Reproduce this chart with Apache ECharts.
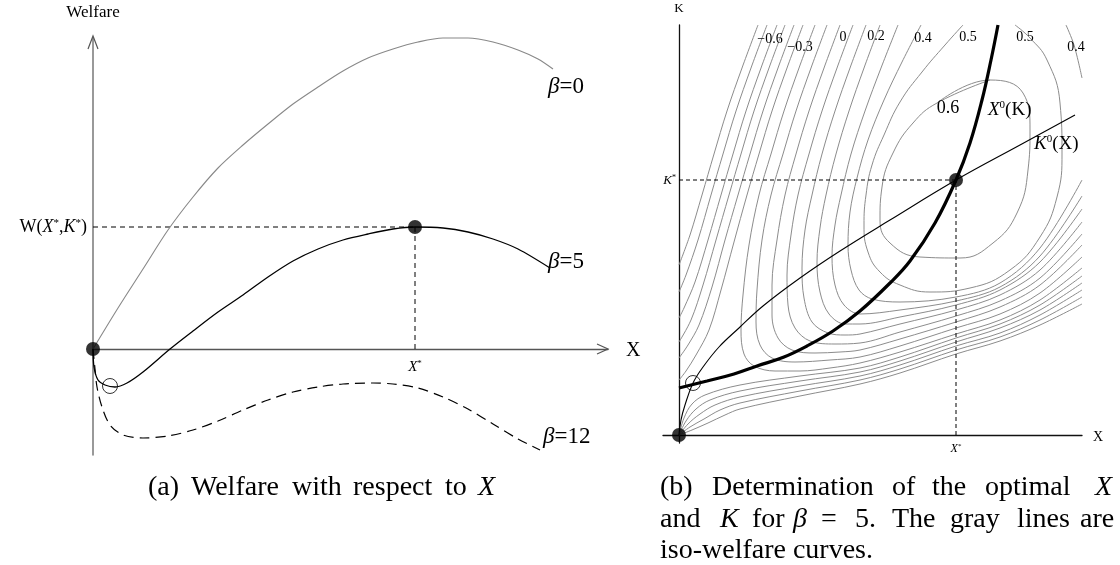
<!DOCTYPE html>
<html><head><meta charset="utf-8">
<script src="https://cdn.jsdelivr.net/npm/echarts/dist/echarts.min.js"></script>
<style>html,body{margin:0;padding:0;background:#fff}#c{width:1120px;height:565px}</style>
</head><body><div id="c"></div>
<script>
// ---------- Panel (a): welfare W against X for three beta values ----------
const beta0Curve = [[0,0],[0.25,0.41],[0.5,0.80],[0.75,1.19],[1.0,1.52],[1.25,1.81],[1.5,2.04],[1.75,2.25],[2.0,2.45],[2.25,2.62],[2.5,2.78],[2.75,2.91],[3.0,3.00],[3.25,3.07],[3.5,3.11],[3.75,3.11],[4.0,3.07],[4.25,2.99],[4.45,2.90],[4.6,2.80]];
const beta5Curve = [[0,0],[0.01,-0.18],[0.05,-0.31],[0.12,-0.36],[0.22,-0.38],[0.34,-0.34],[0.50,-0.23],[0.77,0],[1.0,0.18],[1.25,0.37],[1.5,0.54],[1.75,0.72],[2.0,0.88],[2.25,1.00],[2.5,1.09],[2.75,1.15],[3.0,1.20],[3.22,1.22],[3.5,1.21],[3.75,1.17],[4.0,1.10],[4.25,1.00],[4.57,0.81]];
const beta12Curve = [[0,0],[0.02,-0.20],[0.04,-0.38],[0.09,-0.58],[0.17,-0.76],[0.30,-0.86],[0.50,-0.89],[0.75,-0.87],[1.0,-0.81],[1.25,-0.72],[1.5,-0.61],[1.75,-0.51],[2.0,-0.43],[2.25,-0.38],[2.5,-0.35],[2.8,-0.34],[3.0,-0.35],[3.25,-0.39],[3.5,-0.48],[3.75,-0.60],[4.0,-0.75],[4.25,-0.90],[4.47,-1.01]];
const leftOptimum = [3.22, 1.22];
const leftOrigin = [0, 0];
const leftLocalMin = [0.17, -0.37];

// ---------- Panel (b): iso-welfare curves in the (X, K) plane ----------
const kZeroCurve = [[0,0],[0.02,0.15],[0.06,0.30],[0.14,0.52],[0.24,0.68],[0.40,0.88],[0.60,1.07],[0.84,1.29],[1.21,1.57],[1.61,1.84],[2.11,2.15],[2.77,2.55],[3.41,2.90],[3.96,3.20]];
const xZeroCurve = [[0,0.47],[0.28,0.54],[0.55,0.61],[0.78,0.69],[1.05,0.78],[1.28,0.89],[1.54,1.04],[1.81,1.24],[2.11,1.52],[2.31,1.74],[2.56,2.12],[2.77,2.55],[2.91,2.92],[3.03,3.35],[3.12,3.75],[3.19,4.10]];
const rightOptimum = [2.77, 2.55];
const rightOrigin = [0, 0];
const rightLocalPt = [0.14, 0.52];

// level 0.6: closed loop around the optimum
const isoLoop = [[2.58,3.32],[3.11,3.55],[3.44,3.42],[3.51,3.05],[3.49,2.65],[3.38,2.22],[3.14,1.92],[2.81,1.77],[2.41,1.78],[2.11,1.92],[2.01,2.15],[2.03,2.48],[2.14,2.82],[2.34,3.12],[2.58,3.32],[3.11,3.55]];
// level 0.5: U-shape opened at the top
const isoU = [[2.84,4.10],[2.66,3.90],[2.43,3.63],[2.21,3.33],[2.05,3.00],[1.93,2.70],[1.87,2.40],[1.85,2.10],[1.89,1.83],[2.01,1.63],[2.21,1.50],[2.51,1.43],[2.91,1.47],[3.31,1.65],[3.61,1.98],[3.78,2.38],[3.83,2.82],[3.81,3.32],[3.68,3.75],[3.51,3.97],[3.36,4.10]];
// level 0.4: small piece in the upper right corner
const isoCorner = [[3.87,4.10],[3.95,3.90],[4.03,3.57]];
// steep lines that end on the K axis
const isoDiagonal = [
  [[0.79,4.10],[0.63,3.67],[0.48,3.24],[0.35,2.81],[0.23,2.40],[0.11,2.00],[0,1.70]],
  [[0.88,4.10],[0.72,3.67],[0.57,3.24],[0.44,2.81],[0.32,2.40],[0.19,1.95],[0.07,1.60],[0,1.43]],
  [[0.98,4.10],[0.82,3.67],[0.67,3.24],[0.54,2.81],[0.42,2.40],[0.29,1.95],[0.16,1.53],[0.05,1.27],[0,1.17]],
  [[1.06,4.10],[0.90,3.67],[0.75,3.24],[0.62,2.81],[0.50,2.40],[0.37,1.95],[0.24,1.50],[0.12,1.15],[0,0.93]],
  [[1.15,4.10],[0.99,3.67],[0.84,3.24],[0.71,2.81],[0.59,2.40],[0.46,1.95],[0.33,1.48],[0.20,1.10],[0.09,0.90],[0,0.77]],
  [[1.24,4.10],[1.08,3.67],[0.93,3.24],[0.80,2.81],[0.68,2.40],[0.55,1.93],[0.42,1.45],[0.30,1.05],[0.17,0.80],[0.07,0.64],[0,0.55]]
];
// lines that come down, bend and leave through the right edge
const isoBent = [
  [[1.36,4.10],[1.20,3.67],[1.05,3.24],[0.92,2.81],[0.80,2.40],[0.70,1.90],[0.64,1.40],[0.62,1.05],[0.65,0.81],[0.75,0.69],[0.96,0.64],[1.21,0.64],[1.51,0.67],[1.81,0.72],[2.21,0.83],[2.77,1.01],[3.21,1.15],[3.61,1.35],[4.03,1.67]],
  [[1.48,4.10],[1.32,3.67],[1.17,3.24],[1.04,2.81],[0.92,2.40],[0.83,1.95],[0.78,1.45],[0.77,1.13],[0.81,0.90],[0.93,0.77],[1.16,0.73],[1.51,0.75],[1.81,0.78],[2.21,0.89],[2.77,1.07],[3.21,1.21],[3.61,1.42],[4.03,1.78]],
  [[1.61,4.10],[1.45,3.67],[1.30,3.24],[1.17,2.81],[1.06,2.40],[0.98,1.95],[0.93,1.50],[0.93,1.20],[0.99,0.97],[1.13,0.85],[1.36,0.82],[1.61,0.83],[1.81,0.85],[2.21,0.96],[2.77,1.13],[3.21,1.28],[3.61,1.50],[4.03,1.90]],
  [[1.74,4.10],[1.58,3.67],[1.43,3.24],[1.30,2.81],[1.19,2.40],[1.12,2.00],[1.08,1.60],[1.09,1.30],[1.16,1.07],[1.31,0.94],[1.56,0.91],[1.81,0.92],[2.21,1.03],[2.77,1.19],[3.21,1.34],[3.61,1.57],[4.03,2.01]],
  [[1.87,4.10],[1.71,3.67],[1.56,3.24],[1.43,2.81],[1.33,2.40],[1.26,2.05],[1.23,1.67],[1.25,1.37],[1.33,1.13],[1.49,1.02],[1.66,1.00],[1.81,1.01],[2.21,1.11],[2.77,1.25],[3.21,1.40],[3.61,1.65],[4.03,2.13]],
  [[2.01,4.10],[1.85,3.67],[1.70,3.24],[1.57,2.81],[1.47,2.40],[1.41,2.07],[1.38,1.73],[1.41,1.43],[1.50,1.21],[1.66,1.11],[1.81,1.11],[2.21,1.18],[2.77,1.30],[3.21,1.45],[3.61,1.73],[4.03,2.26]],
  [[2.19,4.10],[2.02,3.67],[1.86,3.24],[1.72,2.81],[1.62,2.40],[1.56,2.10],[1.53,1.79],[1.56,1.50],[1.65,1.30],[1.81,1.21],[2.21,1.25],[2.77,1.34],[3.21,1.48],[3.61,1.79],[4.03,2.39]],
  [[2.42,4.10],[2.23,3.73],[2.05,3.35],[1.89,2.95],[1.78,2.57],[1.71,2.23],[1.69,1.90],[1.72,1.65],[1.80,1.45],[1.93,1.36],[2.21,1.33],[2.77,1.38],[3.21,1.52],[3.61,1.87],[4.03,2.55]]
];
// lines fanning out of the origin
const isoFan = [
  [[0,0],[0.05,0.17],[0.13,0.31],[0.26,0.40],[0.61,0.50],[1.21,0.59],[1.81,0.67],[2.21,0.78],[2.77,0.97],[3.21,1.11],[3.61,1.30],[4.03,1.59]],
  [[0,0],[0.07,0.14],[0.17,0.26],[0.31,0.35],[0.61,0.44],[1.21,0.54],[1.81,0.63],[2.21,0.74],[2.77,0.93],[3.21,1.07],[3.61,1.25],[4.03,1.52]],
  [[0,0],[0.09,0.11],[0.21,0.21],[0.36,0.30],[0.61,0.38],[1.21,0.49],[1.81,0.59],[2.21,0.70],[2.77,0.89],[3.21,1.02],[3.61,1.20],[4.03,1.45]],
  [[0,0],[0.11,0.08],[0.25,0.16],[0.41,0.25],[0.61,0.32],[1.21,0.44],[1.81,0.55],[2.21,0.66],[2.77,0.85],[3.21,0.98],[3.61,1.15],[4.03,1.38]],
  [[0,0],[0.13,0.05],[0.29,0.12],[0.46,0.20],[0.61,0.26],[1.21,0.39],[1.81,0.51],[2.21,0.62],[2.77,0.81],[3.21,0.94],[3.61,1.10],[4.03,1.31]]
];
const isoLabels = ['\u22120.6','\u22120.3','0','0.2','0.4','0.5','0.5','0.4'];

// ---------- chart ----------
const SERIF = 'Liberation Serif, Times New Roman, serif';
const chart = echarts.init(document.getElementById('c'), null, {renderer:'canvas'});
const series = [];
function line(data, gi, style, extra){
  series.push(Object.assign({type:'line', xAxisIndex:gi, yAxisIndex:gi, data:data, symbol:'none', smooth:0.35,
    lineStyle:style, silent:true, clip:false, z:2, animation:false}, extra||{}));
}
function dots(data, gi, size, hollow){
  series.push({type:'scatter', xAxisIndex:gi, yAxisIndex:gi, data:data, symbolSize:size, silent:true, z:10, animation:false,
    itemStyle: hollow ? {color:'rgba(0,0,0,0)', borderColor:'#000', borderWidth:1} : {color:'#000'}});
}
const gray = {color:'#8c8c8c', width:1};
// panel a
line([[0,leftOptimum[1]],leftOptimum], 0, {color:'#000', width:1, type:[5,4]}, {smooth:false});
line([[leftOptimum[0],0],leftOptimum], 0, {color:'#000', width:1, type:[5,4]}, {smooth:false});
line(beta0Curve, 0, {color:'#888', width:1.1}, {smooth:0.3});
line(beta5Curve, 0, {color:'#000', width:1.3}, {smooth:0.3});
line(beta12Curve, 0, {color:'#000', width:1.2, type:[10,6]}, {smooth:0.3});
dots([leftOrigin, leftOptimum], 0, 14, false);
dots([leftLocalMin], 0, 15, true);
// panel b
isoDiagonal.forEach(d => line(d, 1, gray));
isoBent.forEach(d => line(d, 1, gray));
isoFan.forEach(d => line(d, 1, gray));
line(isoLoop, 1, gray, {smooth:0.45});
line(isoU, 1, gray, {smooth:0.45});
line(isoCorner, 1, gray);
line([[0,rightOptimum[1]],rightOptimum], 1, {color:'#000', width:1, type:[4,3]}, {smooth:false});
line([[rightOptimum[0],0],rightOptimum], 1, {color:'#000', width:1, type:[4,3]}, {smooth:false});
line(kZeroCurve, 1, {color:'#000', width:1.1}, {z:4, smooth:0.4});
line(xZeroCurve, 1, {color:'#000', width:3.2}, {z:5, smooth:0.4});
dots([rightOrigin, rightOptimum], 1, 14, false);
dots([rightLocalPt], 1, 15, true);

function vAxis(gi, min, max, color, w){
  return {type:'value', gridIndex:gi, min:min, max:max, axisLine:{onZero:true, lineStyle:{color:color, width:w}},
    axisTick:{show:false}, axisLabel:{show:false}, splitLine:{show:false}};
}
chart.setOption({
  animation:false,
  backgroundColor:'#fff',
  grid:[{left:93, top:38, width:515, height:417},{left:663, top:25, width:419, height:418}],
  xAxis:[vAxis(0, 0, 5.15, '#555', 1.3), vAxis(1, -0.16, 4.03, '#111', 1.3)],
  yAxis:[vAxis(0, -1.06, 3.11, '#777', 1.5), vAxis(1, -0.08, 4.10, '#111', 1.3)],
  series: series
});

// ---------- text and arrows ----------
function txt(x, y, text, size, align, rich, italic){
  return {type:'text', x:x, y:y, silent:true, z:20,
    style:{text:text, fontFamily:SERIF, fontSize:size, fontStyle: italic?'italic':'normal', fill:'#000', align:align||'center', verticalAlign:'middle', rich:rich}};
}
function rich(size){
  return {n:{fontFamily:SERIF, fontSize:size, fill:'#000'},
          i:{fontFamily:SERIF, fontSize:size, fontStyle:'italic', fill:'#000'},
          s:{fontFamily:SERIF, fontSize:Math.round(size*0.6), fill:'#000', padding:[0,0,Math.round(size*0.45),0]}};
}
const g = [];
const tipY = chart.convertToPixel({gridIndex:0}, [0, 3.11]);
const tipX = chart.convertToPixel({gridIndex:0}, [5.15, 0]);
g.push({type:'polyline', silent:true, z:20, shape:{points:[[tipY[0]-5, tipY[1]+11],[tipY[0], tipY[1]-2],[tipY[0]+5, tipY[1]+11]]}, style:{stroke:'#555', lineWidth:1.2, fill:null}});
g.push({type:'polyline', silent:true, z:20, shape:{points:[[tipX[0]-11, tipX[1]-5],[tipX[0], tipX[1]],[tipX[0]-11, tipX[1]+5]]}, style:{stroke:'#555', lineWidth:1.2, fill:null}});

// panel a labels
g.push(txt(93, 13, 'Welfare', 17));
g.push(txt(87, 227, '{n|W(}{i|X}{s|*}{n|,}{i|K}{s|*}{n|)}', 18, 'right', rich(18)));
g.push(txt(415, 367, '{i|X}{s|*}', 15, 'center', rich(15)));
g.push(txt(626, 351, 'X', 20, 'left'));
g.push(txt(548, 87, '{i|\u03b2}{n|=0}', 23, 'left', rich(23)));
g.push(txt(548, 262, '{i|\u03b2}{n|=5}', 23, 'left', rich(23)));
g.push(txt(543, 437, '{i|\u03b2}{n|=12}', 23, 'left', rich(23)));
// panel b labels
g.push(txt(679, 9, 'K', 13));
g.push(txt(1093, 437, 'X', 14, 'left'));
g.push(txt(676, 181, '{i|K}{s|*}', 13, 'right', rich(13)));
g.push(txt(956, 449, '{i|X}{s|*}', 12, 'center', rich(12)));
g.push(txt(988, 110, '{i|X}{s|0}{n|(K)}', 19, 'left', rich(19)));
g.push(txt(1034, 144, '{i|K}{s|0}{n|(X)}', 19, 'left', rich(19)));
g.push(txt(948, 108, '0.6', 18));
const isoLabelPos = [[770,39],[800,47],[843,37],[876,36],[923,38],[968,37],[1025,37],[1076,47]];
isoLabels.forEach((t, k) => g.push(txt(isoLabelPos[k][0], isoLabelPos[k][1], t, 14)));

// captions
const C = 28;
[['(a)',148,0],['Welfare',191,0],['with',292,0],['respect',353,0],['to',445,0],['X',478,1]].forEach(w => g.push(txt(w[1], 488, w[0], C, 'left', null, w[2])));
[['(b)',660,0],['Determination',712,0],['of',892,0],['the',932,0],['optimal',985,0],['X',1095,1]].forEach(w => g.push(txt(w[1], 488, w[0], C, 'left', null, w[2])));
[['and',660,0],['K',720,1],['for',752,0],['\u03b2',793,1],['=',821,0],['5.',855,0],['The',892,0],['gray',950,0],['lines',1017,0],['are',1080,0]].forEach(w => g.push(txt(w[1], 520, w[0], C, 'left', null, w[2])));
g.push(txt(660, 551, 'iso-welfare curves.', C, 'left'));

chart.setOption({graphic: g});
</script></body></html>
